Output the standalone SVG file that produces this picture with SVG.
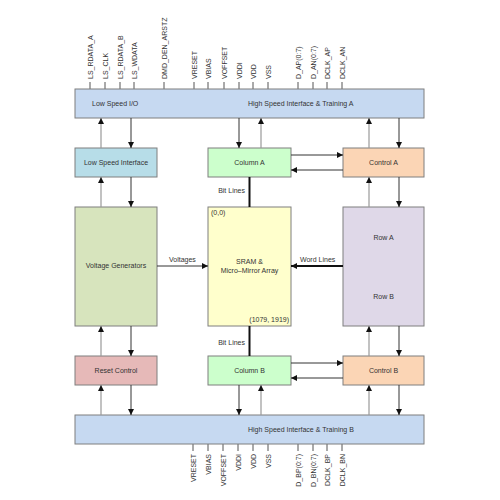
<svg xmlns="http://www.w3.org/2000/svg" width="500" height="500" viewBox="0 0 500 500">
<style>
text{font-family:"Liberation Sans",Arial,sans-serif;font-size:7px;fill:#333}
.box{stroke:#7f7f7f;stroke-width:1}
.c{text-anchor:middle}
.up{stroke:#999;stroke-width:1.2;fill:none}
.dn{stroke:#333;stroke-width:1;fill:none}
.thick{stroke:#111;stroke-width:2;fill:none}
.tick{stroke:#555;stroke-width:1}
</style>
<defs>
<marker id="ah" viewBox="0 0 6 6" refX="6" refY="3" markerWidth="6" markerHeight="6" markerUnits="userSpaceOnUse" orient="auto"><path d="M0,0 L6,3 L0,6 z" fill="#111"/></marker>
</defs>
<rect width="500" height="500" fill="#fff"/>

<g id="top-pins">
<g class="tick">
<line x1="90" y1="82" x2="90" y2="89"/><line x1="105" y1="82" x2="105" y2="89"/><line x1="120" y1="82" x2="120" y2="89"/><line x1="134" y1="82" x2="134" y2="89"/><line x1="164" y1="82" x2="164" y2="89"/><line x1="194" y1="82" x2="194" y2="89"/><line x1="208" y1="82" x2="208" y2="89"/><line x1="224" y1="82" x2="224" y2="89"/><line x1="239" y1="82" x2="239" y2="89"/><line x1="253" y1="82" x2="253" y2="89"/><line x1="268" y1="82" x2="268" y2="89"/><line x1="298" y1="82" x2="298" y2="89"/><line x1="313" y1="82" x2="313" y2="89"/><line x1="327" y1="82" x2="327" y2="89"/><line x1="342" y1="82" x2="342" y2="89"/>
</g>
<text transform="translate(92.5,79) rotate(-90)">LS_RDATA_A</text>
<text transform="translate(107.5,79) rotate(-90)">LS_CLK</text>
<text transform="translate(122.5,79) rotate(-90)">LS_RDATA_B</text>
<text transform="translate(136.5,79) rotate(-90)">LS_WDATA</text>
<text transform="translate(166.5,79) rotate(-90)">DMD_DEN_ARSTZ</text>
<text transform="translate(196.5,79) rotate(-90)">VRESET</text>
<text transform="translate(210.5,79) rotate(-90)">VBIAS</text>
<text transform="translate(226.5,79) rotate(-90)">VOFFSET</text>
<text transform="translate(241.5,79) rotate(-90)">VDDI</text>
<text transform="translate(255.5,79) rotate(-90)">VDD</text>
<text transform="translate(270.5,79) rotate(-90)">VSS</text>
<text transform="translate(300.5,79) rotate(-90)">D_AP(0:7)</text>
<text transform="translate(315.5,79) rotate(-90)">D_AN(0:7)</text>
<text transform="translate(329.5,79) rotate(-90)">DCLK_AP</text>
<text transform="translate(344.5,79) rotate(-90)">DCLK_AN</text>
</g>

<g id="bottom-pins">
<g class="tick">
<line x1="193" y1="444" x2="193" y2="451"/><line x1="208" y1="444" x2="208" y2="451"/><line x1="223" y1="444" x2="223" y2="451"/><line x1="238" y1="444" x2="238" y2="451"/><line x1="253" y1="444" x2="253" y2="451"/><line x1="268" y1="444" x2="268" y2="451"/><line x1="298" y1="444" x2="298" y2="451"/><line x1="313" y1="444" x2="313" y2="451"/><line x1="327" y1="444" x2="327" y2="451"/><line x1="342" y1="444" x2="342" y2="451"/>
</g>
<g text-anchor="end">
<text transform="translate(195.5,454) rotate(-90)">VRESET</text>
<text transform="translate(210.5,454) rotate(-90)">VBIAS</text>
<text transform="translate(225.5,454) rotate(-90)">VOFFSET</text>
<text transform="translate(240.5,454) rotate(-90)">VDDI</text>
<text transform="translate(255.5,454) rotate(-90)">VDD</text>
<text transform="translate(270.5,454) rotate(-90)">VSS</text>
<text transform="translate(300.5,454) rotate(-90)">D_BP(0:7)</text>
<text transform="translate(315.5,454) rotate(-90)">D_BN(0:7)</text>
<text transform="translate(329.5,454) rotate(-90)">DCLK_BP</text>
<text transform="translate(344.5,454) rotate(-90)">DCLK_BN</text>
</g>
</g>

<g id="hsi-a">
<rect class="box" x="75" y="89" width="349" height="29" fill="#c6d9f1"/>
<text x="92" y="106">Low Speed I/O</text>
<text x="248" y="106">High Speed Interface &amp; Training  A</text>
</g>
<g id="low-speed-interface">
<rect class="box" x="75" y="148" width="82" height="29" fill="#b7dde8"/>
<text class="c" x="116" y="165">Low Speed Interface</text>
</g>
<g id="column-a">
<rect class="box" x="208" y="148" width="83" height="29" fill="#ccffcc"/>
<text class="c" x="249.5" y="165">Column  A</text>
</g>
<g id="control-a">
<rect class="box" x="343" y="148" width="81" height="29" fill="#fbd5b5"/>
<text class="c" x="383.5" y="165">Control  A</text>
</g>
<g id="voltage-generators">
<rect class="box" x="75" y="207" width="82" height="119" fill="#d7e4bd"/>
<text class="c" x="116" y="268">Voltage Generators</text>
</g>
<g id="sram">
<rect class="box" x="208" y="207" width="83" height="119" fill="#ffffcc"/>
<text x="211" y="215">(0,0)</text>
<text class="c" x="249.5" y="264">SRAM &amp;</text>
<text class="c" x="249.5" y="273">Micro–Mirror Array</text>
<text x="289" y="322" text-anchor="end">(1079, 1919)</text>
</g>
<g id="row">
<rect class="box" x="343" y="207" width="81" height="119" fill="#dfd8e8"/>
<text class="c" x="383.5" y="240">Row  A</text>
<text class="c" x="383.5" y="299">Row  B</text>
</g>
<g id="reset-control">
<rect class="box" x="75" y="356" width="82" height="29" fill="#e6b9b8"/>
<text class="c" x="116" y="373">Reset Control</text>
</g>
<g id="column-b">
<rect class="box" x="208" y="356" width="83" height="29" fill="#ccffcc"/>
<text class="c" x="249.5" y="373">Column  B</text>
</g>
<g id="control-b">
<rect class="box" x="343" y="356" width="81" height="29" fill="#fbd5b5"/>
<text class="c" x="383.5" y="373">Control  B</text>
</g>
<g id="hsi-b">
<rect class="box" x="75" y="415" width="349" height="29" fill="#c6d9f1"/>
<text x="248" y="432">High Speed Interface &amp; Training  B</text>
</g>

<g id="connectors">
<!-- top bar <-> row 2 -->
<line class="up" x1="101" y1="148" x2="101" y2="118" marker-end="url(#ah)"/>
<line class="dn" x1="131" y1="118" x2="131" y2="148" marker-end="url(#ah)"/>
<line class="dn" x1="239" y1="118" x2="239" y2="148" marker-end="url(#ah)"/>
<line class="up" x1="261" y1="148" x2="261" y2="118" marker-end="url(#ah)"/>
<line class="up" x1="369" y1="148" x2="369" y2="118" marker-end="url(#ah)"/>
<line class="dn" x1="399" y1="118" x2="399" y2="148" marker-end="url(#ah)"/>
<!-- column A <-> control A -->
<line class="dn" x1="291" y1="155" x2="343" y2="155" marker-end="url(#ah)"/>
<line class="dn" x1="343" y1="170" x2="291" y2="170" marker-end="url(#ah)"/>
<!-- row 2 <-> row 3 -->
<line class="up" x1="101" y1="207" x2="101" y2="177" marker-end="url(#ah)"/>
<line class="dn" x1="131" y1="177" x2="131" y2="207" marker-end="url(#ah)"/>
<line class="thick" x1="249.5" y1="177" x2="249.5" y2="207"/>
<text x="245" y="193" text-anchor="end">Bit Lines</text>
<line class="up" x1="369" y1="207" x2="369" y2="177" marker-end="url(#ah)"/>
<line class="dn" x1="399" y1="177" x2="399" y2="207" marker-end="url(#ah)"/>
<!-- middle -->
<line class="dn" x1="157" y1="266" x2="208" y2="266" marker-end="url(#ah)"/>
<text x="169" y="262">Voltages</text>
<line class="thick" x1="343" y1="266" x2="291" y2="266" marker-end="url(#ah)"/>
<text x="300" y="262">Word Lines</text>
<!-- row 3 <-> row 4 -->
<line class="up" x1="101" y1="356" x2="101" y2="326" marker-end="url(#ah)"/>
<line class="dn" x1="131" y1="326" x2="131" y2="356" marker-end="url(#ah)"/>
<line class="thick" x1="249.5" y1="326" x2="249.5" y2="356"/>
<text x="245" y="345" text-anchor="end">Bit Lines</text>
<line class="up" x1="369" y1="356" x2="369" y2="326" marker-end="url(#ah)"/>
<line class="dn" x1="399" y1="326" x2="399" y2="356" marker-end="url(#ah)"/>
<!-- column B <-> control B -->
<line class="dn" x1="291" y1="363" x2="343" y2="363" marker-end="url(#ah)"/>
<line class="dn" x1="343" y1="378" x2="291" y2="378" marker-end="url(#ah)"/>
<!-- row 4 <-> bottom bar -->
<line class="up" x1="101" y1="415" x2="101" y2="385" marker-end="url(#ah)"/>
<line class="dn" x1="131" y1="385" x2="131" y2="415" marker-end="url(#ah)"/>
<line class="dn" x1="239" y1="385" x2="239" y2="415" marker-end="url(#ah)"/>
<line class="up" x1="261" y1="415" x2="261" y2="385" marker-end="url(#ah)"/>
<line class="up" x1="369" y1="415" x2="369" y2="385" marker-end="url(#ah)"/>
<line class="dn" x1="399" y1="385" x2="399" y2="415" marker-end="url(#ah)"/>
</g>
</svg>
